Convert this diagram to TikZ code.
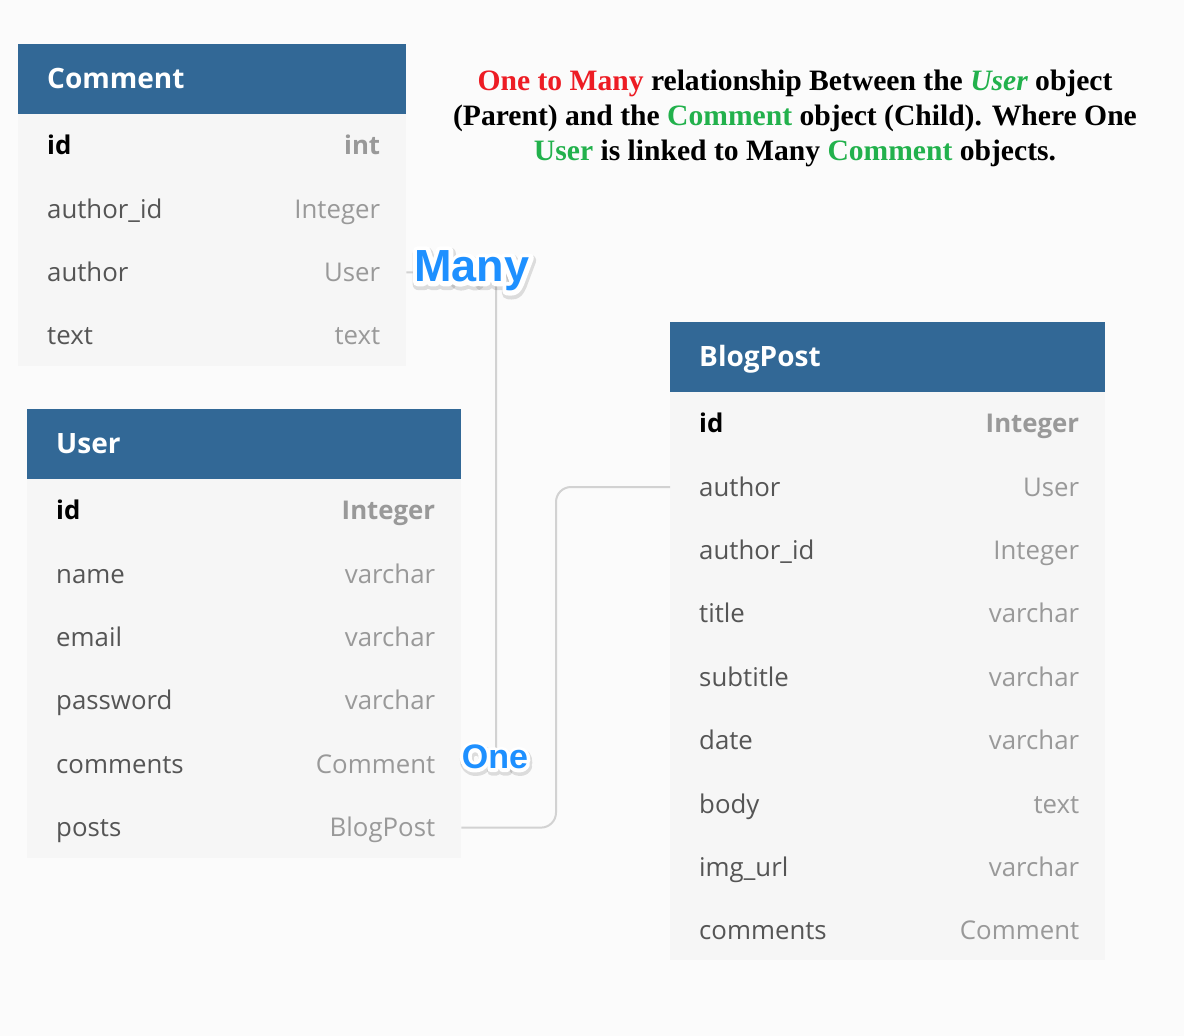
\documentclass[tikz,border=0pt]{standalone}
\usepackage{fontspec}
\setmainfont{Open Sans}
\newfontfamily\titlefont{Liberation Serif}
\newfontfamily\lblfont{Liberation Sans}
\newfontfamily\lblfontw[FakeBold=20]{Liberation Sans}
\newfontfamily\lblfonts[FakeBold=26]{Liberation Sans}
\usetikzlibrary{calc}
\definecolor{bgc}{HTML}{FBFBFB}
\definecolor{hdrc}{HTML}{326896}
\definecolor{rowc}{HTML}{F6F6F6}
\definecolor{namec}{HTML}{555555}
\definecolor{typec}{HTML}{999999}
\definecolor{connc}{HTML}{D2D2D2}
\definecolor{lblblue}{HTML}{1E90FF}
\definecolor{redc}{HTML}{ED1C24}
\definecolor{greenc}{HTML}{22B14C}
\tikzset{
  hdrbox/.style={fill=hdrc, draw=none, inner sep=0pt, minimum height=69.5pt},
  rowbox/.style={draw=none, inner sep=0pt, minimum height=63pt},
  hdrtext/.style={font=\bfseries\fontsize{28}{30}\selectfont, text=white, inner sep=0pt, text height=20pt, text depth=0pt},
  fname/.style={font=\fontsize{25.8}{28}\selectfont, text=namec, inner sep=0pt, text height=18pt, text depth=0pt},
  ftype/.style={font=\fontsize{25.8}{28}\selectfont, text=typec, inner sep=0pt, text height=18pt, text depth=0pt},
  idname/.style={font=\bfseries\fontsize{25.8}{28}\selectfont, text=black, inner sep=0pt, text height=18pt, text depth=0pt},
  idtype/.style={font=\bfseries\fontsize{25.8}{28}\selectfont, text=typec, inner sep=0pt, text height=18pt, text depth=0pt},
  conn/.style={draw=connc, line width=2pt},
  lbl/.style={inner sep=0pt},
  titletxt/.style={font=\titlefont\bfseries\fontsize{29.6}{35}\selectfont, align=center, inner sep=0pt}
}
% prefix, x, y, width, title, id type, list of name/type
\newcommand\ertab[7]{%
  \node[hdrbox, minimum width=#4pt, anchor=north west] (#1-h) at (#2,#3) {};
  \node[hdrtext, anchor=west] at ([xshift=29pt]#1-h.west) {#5};
  \node[rowbox, minimum width=#4pt, anchor=north west] (#1-1) at (#1-h.south west) {};
  \node[idname, anchor=west] at ([xshift=29pt]#1-1.west) {id};
  \node[idtype, anchor=east] at ([xshift=-26pt]#1-1.east) {#6};
  \foreach \f/\t [count=\i from 2] in {#7} {
    \pgfmathtruncatemacro\j{\i-1}
    \node[rowbox, minimum width=#4pt, anchor=north west] (#1-\i) at (#1-\j.south west) {};
    \node[fname, anchor=west] at ([xshift=29pt]#1-\i.west) {\f};
    \node[ftype, anchor=east] at ([xshift=-26pt]#1-\i.east) {\t};
  }
}
% name, x, y, size, text
\newcommand\glowlabel[5]{%
  \begin{scope}[line join=round, line cap=round]
  \node[lbl, font={\lblfonts\bfseries\fontsize{#4}{#4}\selectfont}, text=black, opacity=0.12] at ($(#2,#3)+(1,2.5)$) {#5};
  \node[lbl, font={\lblfontw\bfseries\fontsize{#4}{#4}\selectfont}, text=white] at (#2,#3) {#5};
  \end{scope}
  \node[lbl, font={\lblfont\bfseries\fontsize{#4}{#4}\selectfont}, text=lblblue] (#1) at (#2,#3) {#5};
}
\begin{document}
\begin{tikzpicture}[x=1pt,y=-1pt]
\fill[bgc] (0,0) rectangle (1184,1036);
\useasboundingbox (0,0) rectangle (1184,1036);

\fill[rowc] (18,112) rectangle (406,365.5);
\fill[rowc] (27,477) rectangle (461,857.5);
\fill[rowc] (670,390) rectangle (1105,959.5);

\ertab{c}{18}{44}{388}{Comment}{int}{author\_id/Integer, author/User, text/text}
\ertab{u}{27}{409}{434}{User}{Integer}{name/varchar, email/varchar, password/varchar, comments/Comment, posts/BlogPost}
\ertab{b}{670}{322}{435}{BlogPost}{Integer}{author/User, author\_id/Integer, title/varchar, subtitle/varchar, date/varchar, body/text, img\_url/varchar, comments/Comment}

\coordinate (v1) at (496,0);
\coordinate (v2) at (556,0);
\draw[conn, rounded corners=15pt] (c-3.east) -| (v1 |- u-5.east) -- (u-5.east);
\draw[conn, rounded corners=15pt] (u-6.east) -| (v2 |- b-2.west) -- (b-2.west);

\glowlabel{many}{472}{271}{45}{Many}
\glowlabel{one}{495}{757}{34}{One}

\node[titletxt] (title) at (795,118) {\textcolor{redc}{One to Many} relationship Between the \textcolor{greenc}{\itshape User} object\\(Parent) and the \textcolor{greenc}{Comment} object (Child). Where One\\\textcolor{greenc}{User} is linked to Many \textcolor{greenc}{Comment} objects.};
\end{tikzpicture}
\end{document}
